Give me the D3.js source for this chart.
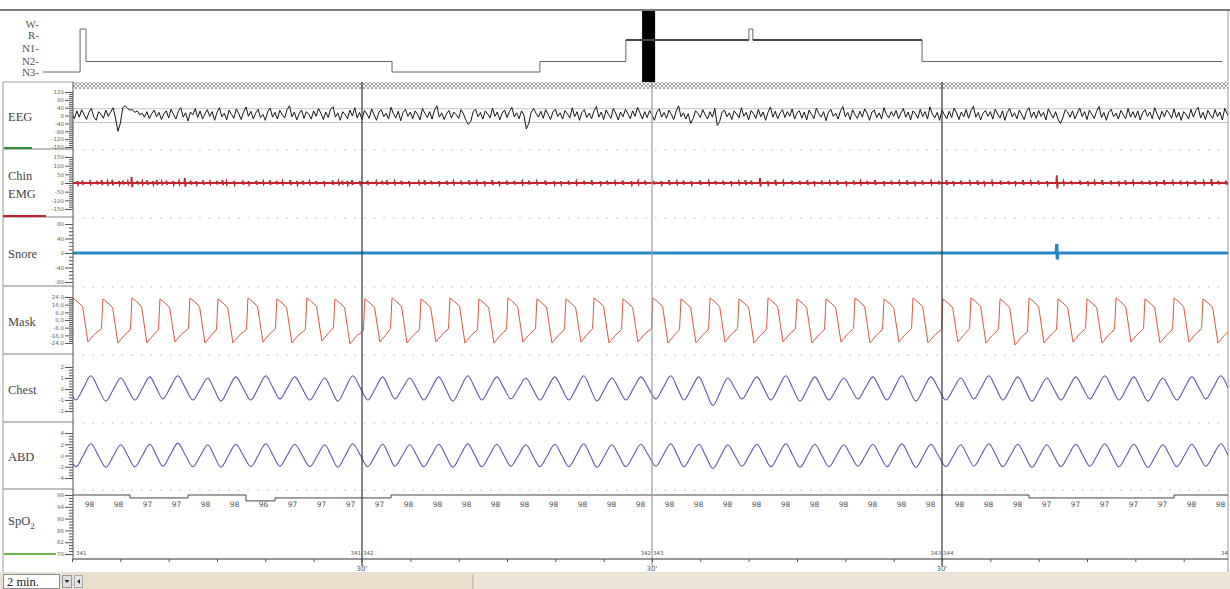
<!DOCTYPE html>
<html><head><meta charset="utf-8">
<script src="https://cdn.jsdelivr.net/npm/d3@7"></script>
<style>body{margin:0;background:#fff;overflow:hidden}svg{display:block}</style>
</head><body><svg id="c" width="1230" height="589"></svg>
<script>
// ---------------- DATA ----------------
const stageNames = ["W","R","N1","N2","N3"];
const hypnoMin   = [0, 15.1, 17.5, 142.1, 202.3, 237.3, 287.4, 289.0, 357.9, 480];
const hypnoStage = ["N3","W","N2","N3","N2","R","W","R","N2","N2"];
const hypnoCursor = [243.9, 249.2];

const eegTicks  = [120,80,40,0,-40,-80,-120,-160];
const emgTicks  = [150,100,50,0,-50,-100,-150];
const snoreTicks= [80,40,0,-40,-80];
const maskTicks = [24,16,8,0,-8,-16,-24];
const chestTicks= [2,1,0,-1,-2];
const abdTicks  = [4,2,0,-2,-4];
const spo2Ticks = [98,94,90,86,82,78];
const eegRef = [35,-35];

const eegStep = 0.25; // seconds per sample
const eeg = [
 12,-16,24,-8,30,4,-20,16,36,-6,-24,20,8,-14,28,-4,18,40,-12,-80,
 -40,40,50,36,28,30,16,24,4,12,-8,20,-16,10,28,-6,16,-20,8,24,
 -12,32,6,-18,22,40,-8,14,-28,18,4,36,-10,24,-18,8,30,-4,20,-24,
 16,40,-6,12,-22,28,6,-14,34,10,-20,18,44,-4,22,-16,12,32,-10,6,
 -24,20,38,-8,16,-18,26,4,-12,30,50,-6,18,-22,10,28,-14,20,6,-18,
 24,-4,36,12,-20,18,-10,32,46,-8,14,-24,20,6,-16,28,-2,40,-12,16,
 -20,26,8,-14,34,4,-24,18,30,-6,12,-18,42,10,-12,22,-26,16,32,-4,
 18,-16,24,6,-22,36,12,-10,20,-18,28,50,-8,14,-20,10,26,-12,18,4,
 -14,30,8,-24,-45,-30,20,32,-6,16,-18,24,8,-12,38,-4,18,-22,12,28,
 -10,20,42,-6,14,-16,24,2,-68,-40,16,36,12,-8,22,-14,30,6,-20,18,
 32,-4,14,-18,26,8,-12,40,-6,20,-24,16,30,-10,12,-16,24,46,-8,18,
 -20,28,6,-14,36,12,-22,18,-6,32,10,-16,24,-4,42,14,-18,20,-10,26,
 4,-24,18,34,-8,16,-14,28,6,-20,22,50,-6,14,-18,10,-40,-16,24,12,
 -10,30,4,-18,20,-8,36,-50,-30,18,28,-6,14,-20,24,8,-12,40,-4,16,
 -22,26,10,-14,32,-6,18,-24,16,44,-8,22,-16,12,30,-10,20,-4,34,-18,
 14,24,-12,18,-22,28,6,-16,38,10,-8,20,-26,16,32,-4,12,-18,24,46,
 -6,16,-20,30,4,-14,22,-8,34,12,-24,18,28,-10,14,-18,40,6,-12,20,
 -4,26,-16,12,36,-8,18,-22,24,10,-14,32,-6,20,-18,44,8,-12,16,-24,
 28,4,-16,22,-10,38,14,-20,18,-6,30,-14,24,48,-8,16,-22,12,26,-4,
 20,-18,32,8,-12,24,-24,16,36,-6,14,-16,28,4,-20,22,40,-10,18,-14,
 26,-4,16,-22,34,10,-12,20,-18,-40,-12,30,18,-8,24,-16,12,38,-6,20,
 -20,28,6,-14,22,46,-10,16,-24,18,32,-6,12,-18,26,4,-16,36,-8,20,
 -12,24,-22,14,30,-4,18,-16,40,8,-20,22,-6,28,12,-14,34,-10,16,-24,
 20,6,-18,32,-8,24,42,-12,16,-20,26,4,-14,30,-6,18,-22,36,10,-12
];

const emgSpikeT = [
 0.6,1.1,1.9,2.6,3.1,3.7,4.2,4.9,5.3,5.8,6.2,6.8,7.3,7.8,8.4,
 8.8,9.3,9.8,10.5,11.1,11.7,12.3,12.9,13.6,14.3,15.0,15.6,16.0,16.8,17.7,
 18.3,19.1,19.8,20.5,21.2,21.8,22.6,23.3,23.9,24.6,25.3,26.1,27.0,27.6,28.0,
 28.5,29.0,29.8,30.6,31.5,32.1,32.6,33.4,34.1,34.9,35.9,36.5,37.2,38.0,38.8,
 39.5,40.3,41.1,41.9,42.7,43.5,44.2,45.0,45.8,46.6,47.3,48.1,49.0,49.9,50.6,
 51.4,52.2,53.0,53.8,54.7,55.4,56.2,57.0,57.9,58.6,59.3,60.2,61.0,61.8,62.6,
 63.3,64.1,65.0,65.9,66.6,67.4,68.2,69.0,69.7,70.3,71.2,72.0,72.8,73.6,74.5,
 75.3,76.1,76.8,77.6,78.4,79.2,80.1,80.9,81.6,82.3,83.1,84.0,84.8,85.6,86.4,
 87.2,88.0,88.9,89.7,90.5,91.2,92.0,92.9,93.7,94.4,95.2,96.1,96.9,97.6,98.4,
 99.2,100.0,100.9,101.9,102.6,103.4,104.3,105.1,105.8,106.6,107.5,108.3,109.0,109.8,110.7,
 111.5,112.2,113.0,113.9,114.7,115.4,116.2,117.1,117.9,118.6,119.4];
const emgSpikeA = [
 10,14,8,12,16,9,18,11,13,8,35,12,9,15,10,
 16,8,14,11,9,30,13,10,15,8,12,16,9,11,14,
 10,13,8,15,12,9,16,11,14,8,12,10,15,9,13,
 11,16,10,14,8,12,15,9,13,11,8,16,12,10,14,
 9,13,15,8,11,16,10,14,12,9,13,8,15,11,10,
 14,9,12,16,10,13,8,15,11,9,14,12,10,16,8,
 13,11,15,9,12,14,10,8,16,13,28,11,18,9,14,
 12,16,10,13,8,15,11,14,9,12,16,10,13,8,15,
 11,14,9,12,16,10,13,8,15,11,9,14,12,10,16,
 8,13,11,45,9,12,14,10,8,16,13,11,15,9,12,
 14,10,16,8,13,11,15,9,22,12,14];

const snoreSpikeT = [101.9];
const snoreSpikeA = [25];

const breathT = [-2.9,0.1,3.2,6.2,9.1,12.2,15.1,18.2,21.2,24.3,27.2,30.3,33.1,36.1,39.1,42.1,45.1,48.1,51.1,54.0,
 57.0,60.1,63.0,66.0,69.0,72.0,75.0,78.0,81.0,84.0,87.0,90.1,93.0,96.0,99.0,102.0,105.0,108.0,111.0,114.0,117.0,120.0];
const maskHi = [22,23,22,23,22,23,22,23,22,23,22,22,23,22,23,22,23,22,22,23,22,23,22,23,22,23,22,22,23,22,23,22,23,22,23,22,22,23,22,23,22,23];
const maskLo = [-23,-23,-24,-24,-23,-24,-24,-23,-24,-22,-25,-23,-24,-23,-24,-24,-23,-24,-23,-24,-23,-24,-24,-23,-24,-23,-24,-23,-24,-23,-24,-23,-24,-26,-24,-23,-24,-23,-24,-23,-24,-23];
const chestHi = [1.1,1.2,1.0,1.1,1.2,1.0,1.1,1.2,1.1,1.0,1.2,1.1,1.0,1.1,1.2,1.1,1.0,1.1,1.2,1.0,1.1,1.2,1.1,1.0,1.1,1.2,1.1,1.0,1.1,1.2,1.1,1.0,1.2,1.1,1.0,1.1,1.2,1.1,1.0,1.1,1.2,1.1];
const chestLo = [-0.9,-1.0,-1.1,-1.0,-0.9,-1.0,-1.1,-1.0,-0.9,-1.0,-1.1,-1.0,-0.9,-1.0,-1.1,-1.0,-0.9,-1.0,-1.0,-1.1,-1.0,-0.9,-1.0,-1.5,-0.9,-1.0,-1.1,-1.0,-0.9,-1.0,-1.1,-1.0,-0.9,-1.0,-1.1,-1.0,-0.9,-1.0,-1.1,-1.0,-0.9,-1.0];
const abdHi = [2.0,2.1,1.9,2.0,2.2,1.9,2.0,2.1,2.0,1.9,2.1,2.0,1.9,2.0,2.1,2.0,1.9,2.0,2.1,1.9,2.0,2.1,2.0,1.9,2.0,2.1,2.0,1.9,2.0,2.1,2.0,1.9,2.1,2.0,1.9,2.0,2.1,2.0,1.9,2.0,2.1,2.0];
const abdLo = [-1.9,-2.0,-2.1,-2.0,-1.9,-2.0,-2.1,-2.0,-1.9,-2.0,-2.1,-2.0,-1.9,-2.0,-2.1,-2.0,-1.9,-2.0,-2.0,-2.1,-2.0,-1.9,-2.0,-2.3,-1.9,-2.0,-2.1,-2.0,-1.9,-2.0,-2.1,-2.0,-1.9,-2.0,-2.1,-2.0,-1.9,-2.0,-2.1,-2.0,-1.9,-2.0];

const spo2Step = 3;
const spo2 = [98,98,97,97,98,98,96,97,97,97, 97,98,98,98,98,98,98,98,98,98,
              98,98,98,98,98,98,98,98,98,98, 98,98,98,97,97,97,97,97,98,98];

const epochLines = [30,60,90];
const epochLabels = [["341",""],["341","342"],["342","343"],["343","344"],["34",""]];

// ---------------- DRAWING ----------------
const svg = d3.select('#c');
const defs = svg.append('defs');
const pat = defs.append('pattern').attr('id','hatch').attr('width',4).attr('height',4).attr('patternUnits','userSpaceOnUse');
pat.append('rect').attr('width',4).attr('height',4).attr('fill','#fff');
pat.append('path').attr('d','M0,0L4,4M4,0L0,4').attr('stroke','#8a8a8a').attr('stroke-width',0.8);
defs.append('clipPath').attr('id','pc').append('rect').attr('x',73).attr('y',89).attr('width',1155).attr('height',470);

const xT = d3.scaleLinear().domain([0,120]).range([72,1232]);

const panels = [
 {name:["EEG"], ty:[121], top:89, bot:149, dom:[-160,120], rng:[147,92], ticks:eegTicks, fmt:d=>d},
 {name:["Chin","EMG"], ty:[180,198], top:149, bot:217, dom:[-150,150], rng:[209,157], ticks:emgTicks, fmt:d=>d},
 {name:["Snore"], ty:[258], top:217, bot:286, dom:[-80,80], rng:[282,224], ticks:snoreTicks, fmt:d=>d},
 {name:["Mask"], ty:[326], top:286, bot:354, dom:[-24,24], rng:[343,297], ticks:maskTicks, fmt:d=>d.toFixed(1)},
 {name:["Chest"], ty:[394], top:354, bot:422, dom:[-2,2], rng:[411,367], ticks:chestTicks, fmt:d=>d},
 {name:["ABD"], ty:[461], top:422, bot:489, dom:[-4,4], rng:[478,433], ticks:abdTicks, fmt:d=>d},
 {name:["SpO2"], ty:[525], top:489, bot:559, dom:[78,98], rng:[554,495], ticks:spo2Ticks, fmt:d=>d}
];
panels.forEach(p=>p.y=d3.scaleLinear().domain(p.dom).range(p.rng));

// frame
svg.append('line').attr('x1',0).attr('x2',1230).attr('y1',10).attr('y2',10).attr('stroke','#7a7a7a').attr('stroke-width',2);
svg.append('line').attr('x1',3).attr('x2',3).attr('y1',82).attr('y2',572).attr('stroke','#9a9a9a');
svg.append('line').attr('x1',1228).attr('x2',1228).attr('y1',10).attr('y2',572).attr('stroke','#9a9a9a');
svg.append('line').attr('x1',3).attr('x2',73).attr('y1',82).attr('y2',82).attr('stroke','#9a9a9a');

svg.append('rect').attr('x',73).attr('y',82).attr('width',1155).attr('height',7).attr('fill','url(#hatch)');

// hypnogram
const hx = d3.scaleLinear().domain([0,480]).range([43,1222]);
const hLabelY = d3.scaleOrdinal().domain(stageNames).range([24,35,48,61,72]);
const hLineY  = d3.scaleOrdinal().domain(stageNames).range([29,40,51,61.5,72]);
const hyp = svg.append('g');
stageNames.forEach(s=>{
  hyp.append('text').attr('x',39).attr('y',hLabelY(s)+3.5).attr('text-anchor','end')
    .attr('font-family','Liberation Serif, serif').attr('font-size',11).attr('fill','#555').text(s+'-');
});
hyp.append('rect').attr('x',hx(hypnoCursor[0])).attr('y',11).attr('width',hx(hypnoCursor[1])-hx(hypnoCursor[0])).attr('height',71).attr('fill','#000');
for(let i=0;i<hypnoMin.length-1;i++){
  const s=hypnoStage[i];
  hyp.append('line').attr('x1',hx(hypnoMin[i])).attr('x2',hx(hypnoMin[i+1])).attr('y1',hLineY(s)).attr('y2',hLineY(s))
     .attr('stroke', s==='R'?'#444':'#666').attr('stroke-width', s==='R'?2:1);
  if(i<hypnoMin.length-2){
    hyp.append('line').attr('x1',hx(hypnoMin[i+1])).attr('x2',hx(hypnoMin[i+1])).attr('y1',hLineY(s)).attr('y2',hLineY(hypnoStage[i+1]))
      .attr('stroke','#666').attr('stroke-width',1);
  }
}

// left column
const left = svg.append('g');
panels.forEach((p,i)=>{
  if(i<panels.length-1){
    left.append('line').attr('x1',3).attr('x2',73).attr('y1',p.bot).attr('y2',p.bot).attr('stroke','#a8a8a8').attr('stroke-width',1.5);
  }
  p.name.forEach((n,j)=>{
    const t=left.append('text').attr('x',8).attr('y',p.ty[j]).attr('font-family','Liberation Serif, serif')
      .attr('font-size',12.5).attr('fill','#444');
    if(n==='SpO2'){ t.text('SpO'); t.append('tspan').attr('font-size',9).attr('dy',4).text('2'); }
    else t.text(n);
  });
  const minor=[];
  for(let k=0;k<p.ticks.length-1;k++){
    const a=p.ticks[k], b=p.ticks[k+1];
    for(let m=1;m<4;m++) minor.push(a+(b-a)*m/4);
  }
  const gM = svg.append('g').attr('transform','translate(73,0)')
    .call(d3.axisLeft(p.y).tickValues(minor).tickSize(4).tickFormat(''));
  const g = svg.append('g').attr('transform','translate(73,0)')
    .call(d3.axisLeft(p.y).tickValues(p.ticks).tickSize(8).tickPadding(1).tickFormat(p.fmt));
  [g,gM].forEach(a=>{a.select('.domain').remove(); a.selectAll('line').attr('stroke','#555');
    a.selectAll('text').attr('font-size',5.5).attr('fill','#666').attr('font-family','DejaVu Sans, sans-serif');});
});
left.append('line').attr('x1',4).attr('x2',32).attr('y1',148).attr('y2',148).attr('stroke','#2f8a3a').attr('stroke-width',2);
left.append('line').attr('x1',3).attr('x2',46).attr('y1',216).attr('y2',216).attr('stroke','#c4202e').attr('stroke-width',2);
left.append('line').attr('x1',4).attr('x2',56).attr('y1',554).attr('y2',554).attr('stroke','#6ab24a').attr('stroke-width',2);

// plot area
const plot = svg.append('g').attr('clip-path','url(#pc)');
panels.slice(0,6).forEach(p=>{
  plot.append('line').attr('x1',73).attr('x2',1228).attr('y1',p.bot+1).attr('y2',p.bot+1)
    .attr('stroke','#b0b0b0').attr('stroke-width',1.2).attr('stroke-dasharray','1.5,8.2');
});
eegRef.forEach(v=>plot.append('line').attr('x1',73).attr('x2',1228).attr('y1',panels[0].y(v)).attr('y2',panels[0].y(v)).attr('stroke','#c4c4c4'));

epochLines.forEach((t,i)=>{
  svg.append('line').attr('x1',xT(t)).attr('x2',xT(t)).attr('y1',82).attr('y2',566)
    .attr('stroke', i===1?'#9a9a9a':'#333').attr('stroke-width',1.2);
});
svg.append('line').attr('x1',73).attr('x2',73).attr('y1',82).attr('y2',559).attr('stroke','#555');

const line = (p)=>d3.line().x(d=>xT(d[0])).y(d=>p.y(d[1]));

plot.append('path').datum(eeg.map((v,i)=>[i*eegStep,v])).attr('d',line(panels[0]))
  .attr('fill','none').attr('stroke','#151515').attr('stroke-width',1);

function spikeSeries(ts,as){
  const pts=[[0,0]];
  for(let i=0;i<Math.min(ts.length,as.length);i++){
    const t=ts[i],a=as[i];
    pts.push([t-0.08,0],[t-0.03,a],[t+0.03,-a*0.7],[t+0.08,0]);
  }
  pts.push([120,0]); return pts;
}
plot.append('path').datum(spikeSeries(emgSpikeT,emgSpikeA)).attr('d',line(panels[1]))
  .attr('fill','none').attr('stroke','#c0262c').attr('stroke-width',1.8);
plot.append('path').datum(spikeSeries(snoreSpikeT,snoreSpikeA)).attr('d',line(panels[2]))
  .attr('fill','none').attr('stroke','#2389c2').attr('stroke-width',3.2);

const maskPts=[];
for(let i=0;i<breathT.length-1;i++){
  const T=breathT[i], Tn=breathT[i+1];
  maskPts.push([T,maskHi[i]],[T+0.5,maskHi[i]-4],[T+1.0,maskHi[i]-9],[T+1.55,maskLo[i]],[T+2.2,maskLo[i]+8],[Tn-0.15,maskLo[i]+14]);
}
plot.append('path').datum(maskPts).attr('d',line(panels[3]))
  .attr('fill','none').attr('stroke','#e2553a').attr('stroke-width',1);

function breathSeries(hi,lo){
  const pts=[];
  for(let i=0;i<breathT.length-1;i++){
    const a=breathT[i]+0.3, b=breathT[i]+1.85, c=breathT[i+1]+0.3;
    pts.push([a,lo[i]],[(a+b)/2,(lo[i]+hi[i])/2],[b,hi[i]],[(b+c)/2,(hi[i]+(lo[i+1]??lo[i]))/2]);
  }
  return pts;
}
plot.append('path').datum(breathSeries(chestHi,chestLo)).attr('d',line(panels[4]).curve(d3.curveMonotoneX))
  .attr('fill','none').attr('stroke','#5a58a8').attr('stroke-width',1.1);
plot.append('path').datum(breathSeries(abdHi,abdLo)).attr('d',line(panels[5]).curve(d3.curveMonotoneX))
  .attr('fill','none').attr('stroke','#5a58a8').attr('stroke-width',1.1);

const spPts = spo2.map((v,i)=>[i*spo2Step,v]); spPts.push([120,spo2[spo2.length-1]]);
plot.append('path').datum(spPts).attr('d',line(panels[6]).curve(d3.curveStepAfter))
  .attr('fill','none').attr('stroke','#444').attr('stroke-width',1);
spo2.forEach((v,i)=>{
  svg.append('text').attr('x',xT(i*spo2Step+1.8)).attr('y',507).attr('text-anchor','middle')
    .attr('font-family','DejaVu Sans, sans-serif').attr('font-size',7.5).attr('fill','#555').text(v);
});

svg.append('line').attr('x1',73).attr('x2',1228).attr('y1',559).attr('y2',559).attr('stroke','#333').attr('stroke-width',1.2);
svg.append('g').attr('transform','translate(0,559)')
  .call(d3.axisBottom(xT).tickValues(d3.range(0,121,5)).tickSize(3).tickFormat(''))
  .call(a=>{a.select('.domain').remove(); a.selectAll('line').attr('stroke','#555');});
epochLines.forEach(t=>{
  svg.append('text').attr('x',xT(t)).attr('y',571).attr('text-anchor','middle')
    .attr('font-family','DejaVu Sans, sans-serif').attr('font-size',7).attr('fill','#555').text("30'");
});
const sm = (x,y,txt,anchor)=>svg.append('text').attr('x',x).attr('y',y).attr('text-anchor',anchor||'start')
  .attr('font-size',5.5).attr('fill','#555').attr('font-family','DejaVu Sans, sans-serif').text(txt);
[0,30,60,90,120].forEach((t,i)=>{
  const [a,b]=epochLabels[i];
  if(i===0){ sm(xT(t)+4,555,a); return; }
  if(i===4){ sm(1221,555,a); return; }
  sm(xT(t)-1,555,a,'end'); sm(xT(t)+1,555,b);
});

svg.append('rect').attr('x',0).attr('y',572).attr('width',1230).attr('height',17).attr('fill','#e9e1d3');
svg.append('rect').attr('x',84).attr('y',574).attr('width',1146).attr('height',15).attr('fill','#efe6d8');
svg.append('rect').attr('x',84).attr('y',574).attr('width',389).attr('height',15).attr('fill','#eadfca');
svg.append('line').attr('x1',473).attr('x2',473).attr('y1',574).attr('y2',589).attr('stroke','#b8aa92');
svg.append('rect').attr('x',3.5).attr('y',574.5).attr('width',56).attr('height',14).attr('fill','#fff').attr('stroke','#8a8a8a');
svg.append('text').attr('x',7).attr('y',586).attr('font-family','Liberation Serif, serif').attr('font-size',12.5).attr('fill','#222').text('2 min.');
svg.append('rect').attr('x',62.5).attr('y',575.5).attr('width',9).attr('height',12).attr('fill','#ddd').attr('stroke','#999');
svg.append('path').attr('d','M64.5,580L69.5,580L67,583Z').attr('fill','#333');
svg.append('rect').attr('x',74.5).attr('y',575.5).attr('width',8).attr('height',12).attr('fill','#e4e4e4').attr('stroke','#aaa');
svg.append('path').attr('d','M77,581.5L80,579L80,584Z').attr('fill','#333');
</script></body></html>
